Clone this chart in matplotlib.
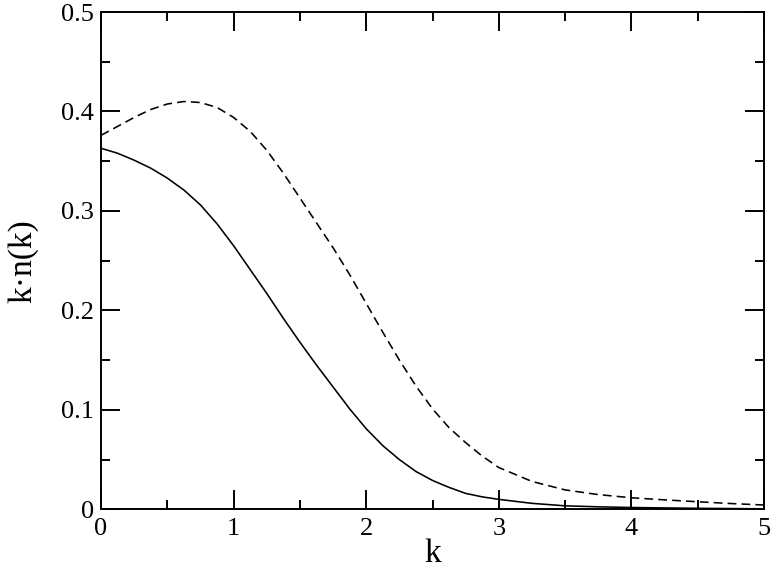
"""
Momentum distribution k*n(k), solid vs dashed curve.
"""

import matplotlib
matplotlib.use('Agg')
import matplotlib.pyplot as plt
from matplotlib.ticker import MultipleLocator

# Data
k_solid = [0, 0.125, 0.25, 0.375, 0.5, 0.625, 0.75, 0.875, 1.0, 1.125, 1.25,
           1.375, 1.5, 1.625, 1.75, 1.875, 2.0, 2.125, 2.25, 2.375, 2.5,
           2.625, 2.75, 2.875, 3.0, 3.25, 3.5, 3.75, 4.0, 4.5, 5.0]
n_solid = [0.363, 0.358, 0.351, 0.343, 0.333, 0.321, 0.306, 0.287, 0.265,
           0.241, 0.217, 0.192, 0.168, 0.145, 0.123, 0.101, 0.081, 0.064,
           0.050, 0.038, 0.029, 0.022, 0.016, 0.0125, 0.010, 0.006, 0.0035,
           0.0025, 0.0018, 0.001, 0.0005]

k_dashed = [0, 0.125, 0.25, 0.375, 0.5, 0.625, 0.75, 0.875, 1.0, 1.125, 1.25,
            1.375, 1.5, 1.625, 1.75, 1.875, 2.0, 2.125, 2.25, 2.375, 2.5,
            2.625, 2.75, 2.875, 3.0, 3.25, 3.5, 3.75, 4.0, 4.25, 4.5, 4.75,
            5.0]
n_dashed = [0.376, 0.385, 0.394, 0.402, 0.4075, 0.410, 0.409, 0.404, 0.394,
            0.380, 0.361, 0.338, 0.313, 0.288, 0.263, 0.236, 0.207, 0.178,
            0.150, 0.124, 0.101, 0.082, 0.067, 0.0535, 0.042, 0.028, 0.0195,
            0.0148, 0.0116, 0.0095, 0.0076, 0.0058, 0.0043]

plt.rcParams['font.family'] = ['Liberation Serif', 'DejaVu Serif']

fig = plt.figure(figsize=(7.73, 5.72), dpi=100)
ax = fig.add_axes([0.1307, 0.1096, 0.8577, 0.8694])

ax.plot(k_solid, n_solid, color='black', lw=1.15)
ax.plot(k_dashed, n_dashed, color='black', lw=1.15, dashes=(5.5, 3.2))

ax.set_xlim(0, 5)
ax.set_ylim(0, 0.5)
ax.xaxis.set_major_locator(MultipleLocator(1))
ax.xaxis.set_minor_locator(MultipleLocator(0.5))
ax.yaxis.set_minor_locator(MultipleLocator(0.05))
ax.set_yticks([0, 0.1, 0.2, 0.3, 0.4, 0.5])
ax.set_yticklabels(['0', '0.1', '0.2', '0.3', '0.4', '0.5'])

ax.tick_params(which='both', direction='in', top=True, right=True,
               width=1.4, labelsize=19)
ax.tick_params(axis='x', pad=6)
ax.tick_params(axis='y', pad=5)
ax.tick_params(which='major', length=13.5)
ax.tick_params(which='minor', length=6.5)
for s in ax.spines.values():
    s.set_linewidth(1.4)

ax.set_xlabel('k', fontsize=24, labelpad=-1)
ax.set_ylabel('k\u00b7n(k)', fontsize=24, labelpad=16)

fig.savefig('out.png', dpi=100, facecolor='white')
